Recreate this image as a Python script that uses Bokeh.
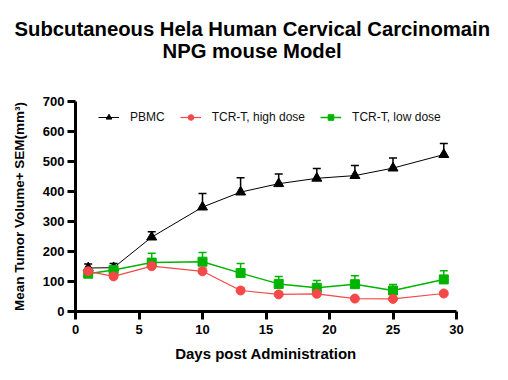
from bokeh.plotting import figure
from bokeh.models import Range1d, Title, Legend, LegendItem, FixedTicker
from bokeh.embed import file_html
from bokeh.resources import INLINE
import numpy as np

# ---- data ----
days = [1, 3, 6, 10, 13, 16, 19, 22, 25, 29]
pbmc = [145, 146, 248, 348, 398, 426, 444, 453, 478, 523]
pbmc_sem = [13, 14, 18, 45, 48, 32, 33, 34, 34, 37]
high = [134, 117, 151, 134, 70, 57, 59, 43, 42, 60]
high_sem = [8, 8, 10, 10, 8, 6, 6, 5, 5, 6]
low = [126, 138, 163, 166, 128, 92, 79, 91, 70, 107]
low_sem = [8, 8, 31, 31, 32, 25, 24, 28, 20, 29]

x_ticks = [0, 5, 10, 15, 20, 25, 30]
y_ticks = [0, 100, 200, 300, 400, 500, 600, 700]

title1 = "Subcutaneous Hela Human Cervical Carcinomain"
title2 = "NPG mouse Model"
x_label = "Days post Administration"
y_label = "Mean Tumor Volume+ SEM(mm\u00b3)"

FONT = "Liberation Sans"

p = figure(width=504, height=376, output_backend="svg", toolbar_location=None,
           x_range=Range1d(0, 30), y_range=Range1d(0, 700),
           min_border_left=75, min_border_right=48, min_border_top=101,
           min_border_bottom=65)
p.outline_line_color = None
p.xgrid.visible = False
p.ygrid.visible = False
p.background_fill_color = "white"
p.border_fill_color = "white"

for ax, ticks in ((p.xaxis[0], x_ticks), (p.yaxis[0], y_ticks)):
    ax.ticker = FixedTicker(ticks=ticks)
    ax.axis_line_width = 3
    ax.major_tick_line_width = 3
    ax.major_tick_out = 8
    ax.major_tick_in = 0
    ax.minor_tick_line_color = None
    ax.major_label_text_font = FONT
    ax.major_label_text_font_style = "bold"
    ax.major_label_text_font_size = "13px"
    ax.major_label_text_color = "black"
    ax.axis_label_text_font = FONT
    ax.axis_label_text_font_style = "bold"
    ax.axis_label_text_color = "black"

p.yaxis[0].major_label_standoff = 3
p.xaxis[0].major_label_standoff = 5
p.xaxis[0].axis_label = x_label
p.xaxis[0].axis_label_text_font_size = "15px"
p.xaxis[0].axis_label_standoff = 8
p.yaxis[0].axis_label = y_label
p.yaxis[0].axis_label_text_font_size = "13.5px"
p.yaxis[0].axis_label_standoff = 13

series = [
    ("PBMC", pbmc, pbmc_sem, "#000000", "triangle", 10, 1.0),
    ("TCR-T, low dose", low, low_sem, "#00B400", "square", 9, 1.5),
    ("TCR-T, high dose", high, high_sem, "#F54848", "circle", 9, 1.2),
]

items = {}
for name, vals, sem, color, marker, size, lw in series:
    top = list(np.array(vals) + np.array(sem))
    p.segment(x0=days, y0=vals, x1=days, y1=top, line_color=color, line_width=1.5)
    p.scatter(days, top, marker="dash", size=8, line_color=color, line_width=1.5)
    ln = p.line(days, vals, line_color=color, line_width=lw)
    sc = p.scatter(days, vals, marker=marker, size=size, fill_color=color,
                   line_color=color)
    items[name] = LegendItem(label=name, renderers=[ln, sc])

legend = Legend(items=[items["PBMC"], items["TCR-T, high dose"], items["TCR-T, low dose"]],
                orientation="horizontal", location=(23, 187))
legend.border_line_color = None
legend.background_fill_alpha = 0
legend.padding = 0
legend.margin = 0
legend.spacing = 15
legend.label_standoff = 11
legend.glyph_width = 21
legend.glyph_height = 14
legend.label_height = 14
legend.label_text_font = FONT
legend.label_text_font_size = "12px"
legend.label_text_color = "#111111"
p.add_layout(legend)

# title panels stack outward from the frame: spacer, line 2, line 1
p.add_layout(Title(text=" ", standoff=38, text_font_size="1px"), "above")
p.add_layout(Title(text=title2, align="left", offset=87, standoff=-3,
                   text_font=FONT, text_font_style="bold", text_font_size="20.3px",
                   text_line_height=1.1, text_color="black"), "above")
p.add_layout(Title(text=title1, align="left", offset=-61, standoff=0,
                   text_font=FONT, text_font_style="bold", text_font_size="20.3px",
                   text_line_height=1.1, text_color="black"), "above")

open("out.html", "w").write(file_html(p, INLINE))
